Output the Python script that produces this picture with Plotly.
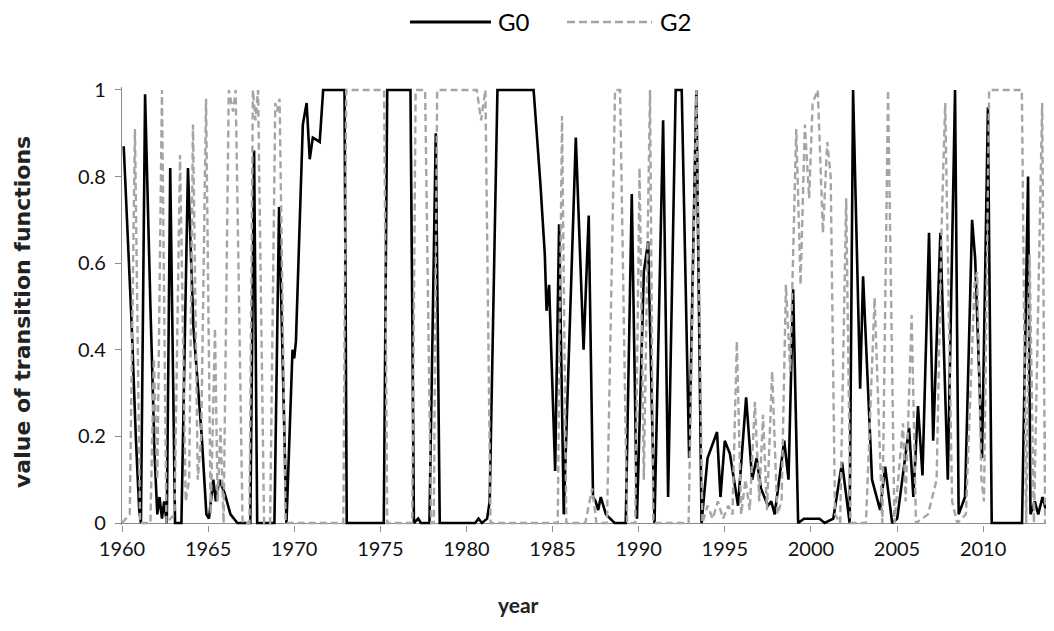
import plotly.graph_objects as go

# ---------------- data ----------------
g0_year = [1960.10, 1960.56, 1960.80, 1961.00, 1961.10, 1961.34, 1961.65, 1961.90, 1962.05, 1962.18,
           1962.32, 1962.45, 1962.60, 1962.80, 1963.08, 1963.45, 1963.83, 1964.15, 1964.63, 1964.90,
           1965.05, 1965.30, 1965.45, 1965.65, 1965.95, 1966.30, 1966.70, 1967.45, 1967.67, 1967.85,
           1968.85, 1969.12, 1969.55, 1969.90, 1970.00, 1970.10, 1970.50, 1970.72, 1970.90, 1971.08,
           1971.48, 1971.68, 1972.92, 1973.05, 1975.20, 1975.40, 1976.75, 1976.95, 1977.20, 1977.35,
           1977.85, 1978.22, 1978.45, 1980.50, 1980.70, 1980.90, 1981.20, 1981.35, 1981.80, 1983.90,
           1984.30, 1984.55, 1984.65, 1984.80, 1985.15, 1985.38, 1985.65, 1986.35, 1986.80, 1987.10,
           1987.35, 1987.50, 1987.65, 1987.80, 1988.10, 1988.60, 1989.25, 1989.60, 1989.90, 1990.30,
           1990.55, 1990.92, 1991.42, 1991.71, 1992.15, 1992.50, 1992.93, 1993.35, 1993.65, 1994.00,
           1994.55, 1994.75, 1995.00, 1995.30, 1995.77, 1996.24, 1996.59, 1996.85, 1997.10, 1997.50,
           1997.70, 1997.90, 1998.45, 1998.70, 1998.97, 1999.26, 1999.60, 2000.50, 2000.80, 2001.30,
           2001.81, 2002.25, 2002.45, 2002.86, 2003.03, 2003.55, 2004.02, 2004.31, 2004.72, 2005.01,
           2005.70, 2005.95, 2006.22, 2006.48, 2006.86, 2007.10, 2007.52, 2007.95, 2008.37, 2008.58,
           2008.95, 2009.36, 2009.54, 2009.94, 2010.28, 2010.50, 2012.26, 2012.61, 2012.75, 2013.00,
           2013.20, 2013.45, 2013.65, 2013.92]
g0_value = [0.87, 0.46, 0.20, 0.03, 0.00, 0.99, 0.50, 0.15, 0.02, 0.06,
            0.01, 0.05, 0.00, 0.82, 0.00, 0.00, 0.82, 0.45, 0.20, 0.02,
            0.01, 0.10, 0.05, 0.10, 0.07, 0.02, 0.00, 0.00, 0.86, 0.00,
            0.00, 0.73, 0.00, 0.40, 0.38, 0.42, 0.92, 0.97, 0.84, 0.89,
            0.88, 1.00, 1.00, 0.00, 0.00, 1.00, 1.00, 0.00, 0.01, 0.00,
            0.00, 0.90, 0.00, 0.00, 0.01, 0.00, 0.01, 0.05, 1.00, 1.00,
            0.78, 0.62, 0.49, 0.55, 0.12, 0.69, 0.02, 0.89, 0.40, 0.71,
            0.06, 0.05, 0.03, 0.06, 0.02, 0.00, 0.00, 0.76, 0.01, 0.58,
            0.65, 0.00, 0.93, 0.06, 1.00, 1.00, 0.15, 1.00, 0.00, 0.15,
            0.21, 0.06, 0.19, 0.16, 0.04, 0.29, 0.10, 0.15, 0.08, 0.04,
            0.05, 0.02, 0.19, 0.10, 0.54, 0.00, 0.01, 0.01, 0.00, 0.01,
            0.14, 0.00, 1.00, 0.31, 0.57, 0.10, 0.03, 0.13, 0.00, 0.01,
            0.22, 0.06, 0.27, 0.11, 0.67, 0.19, 0.67, 0.10, 1.00, 0.02,
            0.06, 0.70, 0.61, 0.15, 0.96, 0.00, 0.00, 0.80, 0.02, 0.05,
            0.02, 0.06, 0.03, 0.07]

g2_year = [1960.00, 1960.45, 1960.75, 1961.05, 1961.65, 1961.85, 1962.05, 1962.32, 1962.58, 1963.05,
           1963.37, 1963.70, 1963.90, 1964.12, 1964.40, 1964.60, 1964.88, 1965.15, 1965.40, 1965.55,
           1965.72, 1965.90, 1966.20, 1966.45, 1966.60, 1967.00, 1967.40, 1967.60, 1967.75, 1967.90,
           1968.25, 1968.60, 1968.90, 1969.00, 1969.15, 1969.50, 1972.85, 1973.02, 1975.22, 1975.40,
           1976.85, 1977.05, 1977.60, 1977.95, 1978.10, 1978.30, 1980.60, 1980.85, 1981.10, 1981.40,
           1985.30, 1985.55, 1985.80, 1986.90, 1987.30, 1987.55, 1988.16, 1988.63, 1988.92, 1989.33,
           1989.80, 1990.05, 1990.30, 1990.66, 1990.85, 1992.90, 1993.35, 1993.70, 1994.00, 1994.30,
           1994.60, 1994.90, 1995.20, 1995.45, 1995.70, 1995.95, 1996.20, 1996.45, 1996.75, 1997.00,
           1997.22, 1997.45, 1997.75, 1998.05, 1998.30, 1998.55, 1998.80, 1999.15, 1999.40, 1999.65,
           1999.90, 2000.10, 2000.40, 2000.70, 2000.95, 2001.15, 2001.40, 2001.70, 2002.05, 2002.30,
           2003.20, 2003.70, 2004.15, 2004.48, 2004.85, 2005.35, 2005.50, 2005.85, 2006.10, 2006.80,
           2007.30, 2007.60, 2007.80, 2008.05, 2008.20, 2008.50, 2009.00, 2009.50, 2009.65, 2009.90,
           2010.05, 2010.35, 2012.25, 2012.50, 2012.70, 2012.95, 2013.43, 2013.60, 2013.80, 2014.00]
g2_value = [0.00, 0.02, 0.91, 0.00, 0.00, 0.38, 0.10, 1.00, 0.00, 0.02,
            0.85, 0.05, 0.10, 0.92, 0.10, 0.20, 0.98, 0.02, 0.45, 0.05,
            0.22, 0.00, 1.00, 0.95, 1.00, 0.00, 0.00, 1.00, 0.93, 1.00,
            0.00, 0.00, 0.97, 0.95, 0.98, 0.00, 0.00, 1.00, 1.00, 0.00,
            0.00, 1.00, 1.00, 0.00, 0.00, 1.00, 1.00, 0.93, 1.00, 0.00,
            0.00, 0.94, 0.00, 0.00, 0.08, 0.00, 0.00, 1.00, 1.00, 0.00,
            0.00, 0.82, 0.10, 1.00, 0.00, 0.00, 1.00, 0.00, 0.04, 0.01,
            0.05, 0.01, 0.04, 0.02, 0.42, 0.02, 0.10, 0.03, 0.28, 0.05,
            0.25, 0.03, 0.35, 0.02, 0.05, 0.55, 0.35, 0.91, 0.55, 0.92,
            0.75, 0.97, 1.00, 0.67, 0.88, 0.80, 0.02, 0.00, 0.75, 0.00,
            0.00, 0.52, 0.00, 1.00, 0.00, 0.23, 0.05, 0.48, 0.00, 0.02,
            0.10, 0.70, 0.97, 0.40, 0.05, 0.00, 0.02, 0.55, 0.58, 0.10,
            0.05, 1.00, 1.00, 0.00, 0.62, 0.00, 0.97, 0.00, 0.41, 0.10]

x_ticks = [1960, 1965, 1970, 1975, 1980, 1985, 1990, 1995, 2000, 2005, 2010]
y_ticks = [0, 0.2, 0.4, 0.6, 0.8, 1]
series_names = ["G0", "G2"]

FONT = "Lato, 'Open Sans', sans-serif"
TITLE_FONT = "'DejaVu Sans', Lato, sans-serif"
G0_COLOR = "#000000"
G2_COLOR = "#A5A5A5"

fig = go.Figure()
fig.add_trace(go.Scatter(x=g0_year, y=g0_value, mode="lines", name=series_names[0],
                         line=dict(color=G0_COLOR, width=2.6), showlegend=False))
fig.add_trace(go.Scatter(x=g2_year, y=g2_value, mode="lines", name=series_names[1],
                         line=dict(color=G2_COLOR, width=2.4, dash="7px,4px"), showlegend=False))

# the page body adds an 8px margin, so the figure is drawn 8px smaller / shifted
OFF = 8
W, H = 1054 - OFF, 631 - OFF
ML, MR, MT, MB = 122 - OFF, 2, 87 - OFF, 106
ph = H - MT - MB
pw = W - ML - MR


def py(pix):
    return (H - MB - (pix - OFF)) / ph


def px(pix):
    return ((pix - OFF) - ML) / pw


fig.update_layout(
    width=W, height=H,
    margin=dict(l=ML, r=MR, t=MT, b=MB),
    paper_bgcolor="white", plot_bgcolor="white",
    font=dict(family=FONT, size=20, color="#000000"),
    xaxis=dict(range=[1960, 2014], tickvals=x_ticks, ticktext=[str(v) for v in x_ticks],
               showgrid=False, zeroline=False, showline=False,
               ticks="outside", ticklen=6, tickcolor="#8C8C8C", tickwidth=1,
               tickfont=dict(family=FONT, size=20, color="#111111")),
    yaxis=dict(range=[-0.0046, 1.0069], tickvals=y_ticks, ticktext=["0", "0.2", "0.4", "0.6", "0.8", "1"],
               showgrid=False, zeroline=True, zerolinecolor="#8C8C8C", zerolinewidth=1.2,
               showline=True, linecolor="#8C8C8C", linewidth=1.2,
               ticks="outside", ticklen=6, tickcolor="#8C8C8C", tickwidth=1,
               ticklabelstandoff=5,
               tickfont=dict(family=FONT, size=20, color="#111111")),
)

# axis titles
fig.add_annotation(text="<b>year</b>", x=px(518), y=py(604), xref="paper", yref="paper",
                   showarrow=False, xanchor="center", yanchor="middle",
                   font=dict(family=FONT, size=21, color="#222222"))
fig.add_annotation(text="<b>value of transition functions</b>", x=px(22), y=py(312),
                   xref="paper", yref="paper", showarrow=False, textangle=-90,
                   xanchor="center", yanchor="middle",
                   font=dict(family=TITLE_FONT, size=22, color="#222222"))

# legend (drawn manually to match the long line samples)
fig.add_shape(type="line", xref="paper", yref="paper", x0=px(410), x1=px(491), y0=py(22), y1=py(22),
              line=dict(color=G0_COLOR, width=3))
fig.add_annotation(text=series_names[0], x=px(496), y=py(22), xref="paper", yref="paper",
                   showarrow=False, xanchor="left", yanchor="middle",
                   font=dict(family=FONT, size=24, color="#000000"))
fig.add_shape(type="line", xref="paper", yref="paper", x0=px(567), x1=px(652), y0=py(22), y1=py(22),
              line=dict(color=G2_COLOR, width=2.6, dash="8px,4px"))
fig.add_annotation(text=series_names[1], x=px(658), y=py(22), xref="paper", yref="paper",
                   showarrow=False, xanchor="left", yanchor="middle",
                   font=dict(family=FONT, size=24, color="#000000"))

fig.write_html("out.html")
